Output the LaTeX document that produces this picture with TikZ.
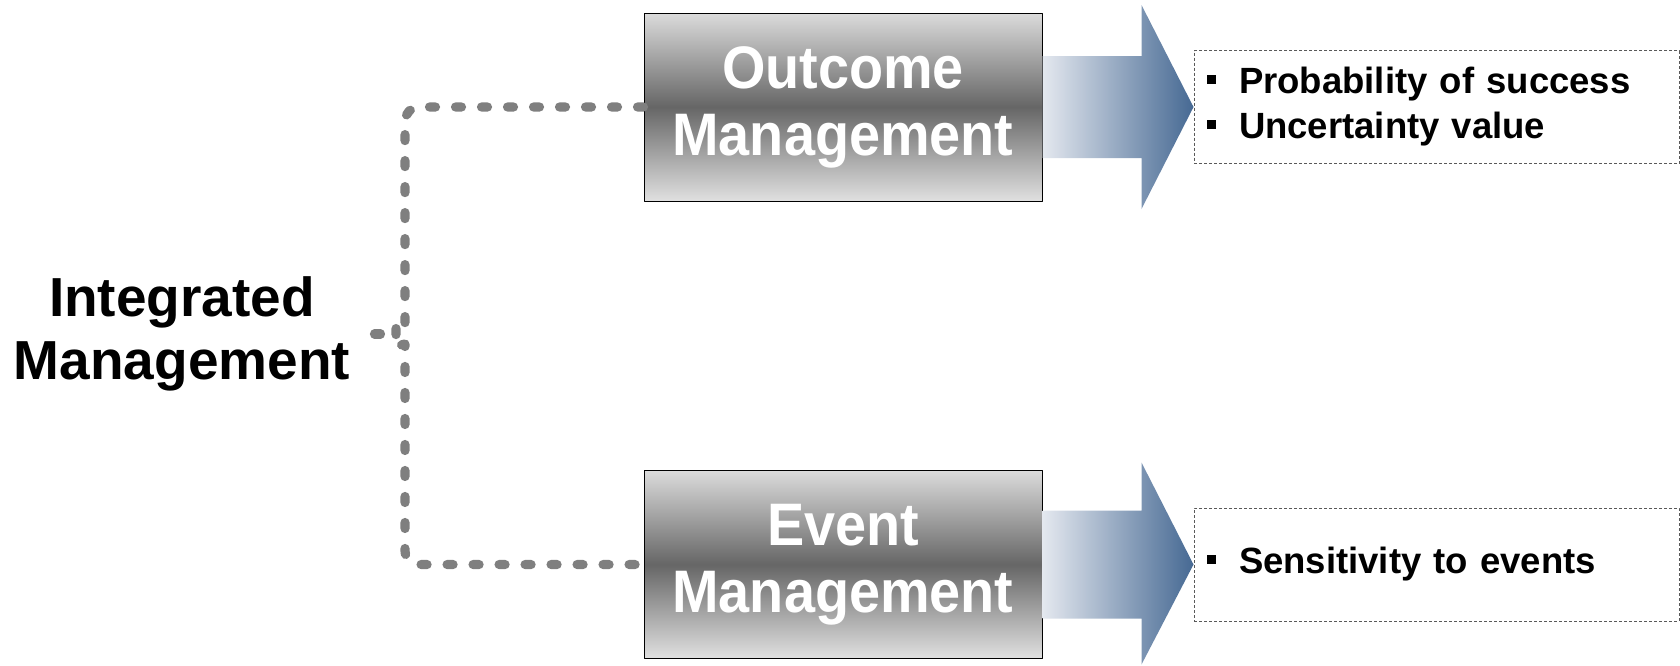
\documentclass[tikz,border=0pt]{standalone}
\usepackage{fontspec}
\setmainfont{Liberation Sans}
\newfontfamily\boxfont[FakeStretch=0.93]{Liberation Sans}
\definecolor{dashgray}{HTML}{7F7F7F}
\definecolor{arrowlight}{HTML}{E4E8EF}
\definecolor{arrowdark}{HTML}{466993}
\newcommand\sqbullet{\raisebox{5pt}{\rule{4.5pt}{4.5pt}}\hspace{11.5pt}}
\begin{document}
\begin{tikzpicture}[x=0.5pt, y=-0.5pt, line cap=round, line join=round,
  mgmtbox/.style={draw=black, line width=0.5pt, minimum width=199pt, minimum height=94pt, inner sep=0pt,
    top color=black!14, bottom color=black!12, middle color=black!60,
    text=white, align=center, font=\boxfont\bfseries\fontsize{30}{33.5}\selectfont},
  listbox/.style={draw=black!65, line width=0.5pt, dash pattern=on 1.5pt off 1pt, line cap=butt, anchor=west,
    minimum height=56.5pt, inner xsep=6.5pt, inner ysep=0pt, text width=229.5pt, align=left,
    font=\bfseries\fontsize{18.25}{22.5}\selectfont},
  conn/.style={draw=dashgray, line width=4.6pt, dash pattern=on 3pt off 10pt}]
\useasboundingbox (0,0) rectangle (1680,665);
% left label and the two boxes
\node[align=center, inner sep=0pt, font=\bfseries\fontsize{27.5}{31.5}\selectfont] (intg) at (182,334) {Integrated\\Management};
\node[mgmtbox] (outc) at (843,107) {Outcome\\Management};
\node[mgmtbox] (evnt) at (843,564.5) {Event\\Management};
% block arrows
\shade[left color=arrowlight, right color=arrowdark] (outc.east) ++(0,-51) -- ++(99,0) -- ++(0,-51) -- ++(52,102) coordinate(otip) -- ++(-52,102) -- ++(0,-51) -- ++(-99,0) -- cycle;
\shade[left color=arrowlight, right color=arrowdark] (evnt.east) ++(0,-54) -- ++(99,0) -- ++(0,-48) -- ++(52,102) coordinate(etip) -- ++(-52,100) -- ++(0,-46) -- ++(-99,0) -- cycle;
% result lists
\node[listbox] (olist) at (otip) {\sqbullet Probability of success\\\sqbullet Uncertainty value};
\node[listbox] (elist) at (etip) {\sqbullet Sensitivity to events};
% dashed brace
\coordinate (tip) at (396,334);
\draw[conn, rounded corners=7pt] (outc.west) -| (405,310) .. controls (405,324) and (396,322) .. (tip) .. controls (396,346) and (405,344) .. (405,358) |- (evnt.west);
\draw[conn] ([xshift=12pt]intg.east) -- (tip);
\end{tikzpicture}
\end{document}
